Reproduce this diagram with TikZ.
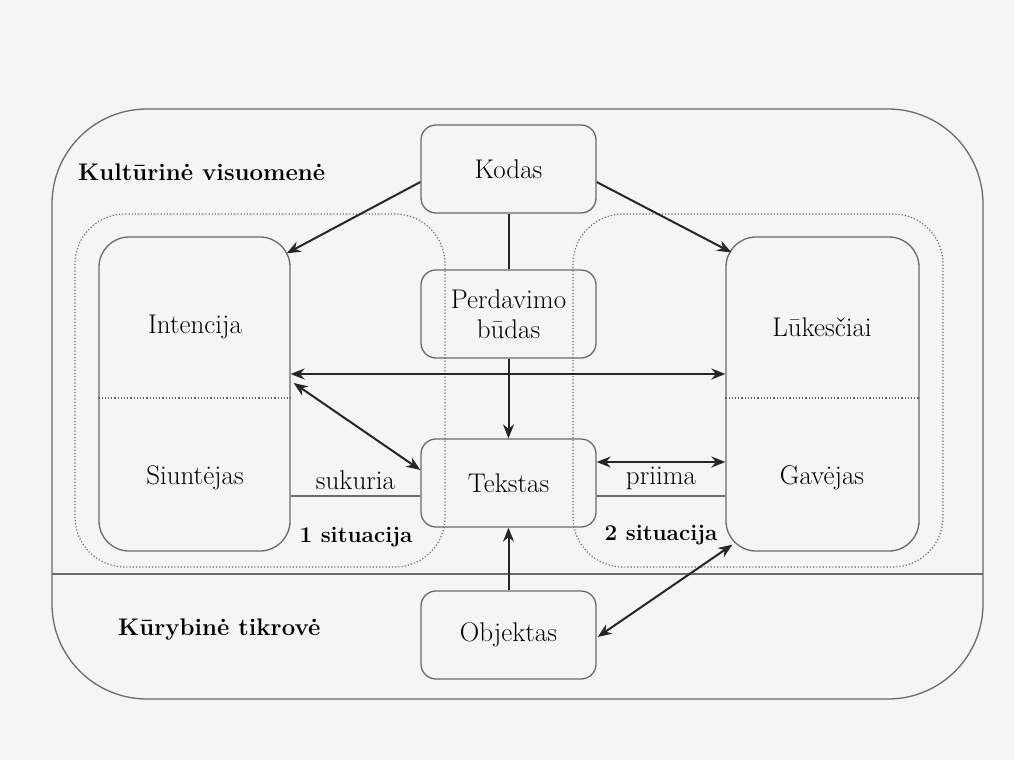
\documentclass[tikz,border=0pt]{standalone}
\usepackage{fontspec}
\usetikzlibrary{arrows.meta}
\definecolor{bg}{HTML}{F5F5F5}
\definecolor{boxline}{HTML}{6A6A6A}
\definecolor{arr}{HTML}{262626}
\begin{document}
\begin{tikzpicture}[x=1pt,y=-1pt,
  box/.style={draw=boxline,line width=1.3pt,rounded corners=15pt,minimum width=175pt,minimum height=88pt,inner sep=0pt,align=center,font=\fontsize{27}{33}\selectfont},
  tall/.style={draw=boxline,line width=1.3pt,rounded corners=30pt,minimum height=314pt,inner sep=0pt},
  zone/.style={draw=boxline,line width=1.2pt,dotted,rounded corners=50pt},
  lbl/.style={font=\fontsize{27}{33}\selectfont,inner sep=0pt},
  blbl/.style={font=\bfseries\fontsize{22.5}{27}\selectfont,inner sep=0pt},
  con/.style={draw=arr,line width=2pt},
  tip/.style={-{Stealth[length=14pt,width=11pt,inset=4.5pt]}},
  dtip/.style={{Stealth[length=14pt,width=11pt,inset=4.5pt]}-{Stealth[length=14pt,width=11pt,inset=4.5pt]}}
]
\useasboundingbox[fill=bg] (0,0) rectangle (1014,760);
% outer region
\draw[draw=boxline,line width=1.3pt,rounded corners=95pt] (52,109) rectangle (983,699);
\draw[draw=boxline,line width=1.3pt] (52,574) -- (983,574);
% situation zones
\draw[zone] (75,214) rectangle (445,567);
\draw[zone] (573,214) rectangle (943,567);
% tall boxes
\node[tall,minimum width=191pt] (lbox) at (194.5,394) {};
\node[tall,minimum width=193pt] (rbox) at (822.5,394) {};
\path (lbox.west) ++(0,4) coordinate (ld1) (lbox.east) ++(0,4) coordinate (ld2);
\draw[boxline,line width=1.2pt,dotted] (ld1) -- (ld2);
\path (rbox.west) ++(0,4) coordinate (rd1) (rbox.east) ++(0,4) coordinate (rd2);
\draw[boxline,line width=1.2pt,dotted] (rd1) -- (rd2);
\node[lbl] (intencija) at (195,327) {Intencija};
\node[lbl] (siuntejas) at (195,478) {Siuntėjas};
\node[lbl] (lukesciai) at (822,327) {Lūkesčiai};
\node[lbl] (gavejas) at (822,478) {Gavėjas};
% central boxes
\node[box] (kodas) at (508.5,169) {Kodas};
\node[box] (perdavimo) at (508.5,314) {Perdavimo\\[-3pt]būdas};
\node[box] (tekstas) at (508.5,483) {Tekstas};
\node[box] (objektas) at (508.5,635) {Objektas};
% region labels
\node[blbl,font=\bfseries\fontsize{24}{29}\selectfont,anchor=west] (kult) at (78,172) {Kultūrinė visuomenė};
\node[blbl,font=\bfseries\fontsize{24}{29}\selectfont,anchor=west] (kury) at (118,630) {Kūrybinė tikrovė};
\node[blbl] (sit1) at (356,537) {1 situacija};
\node[blbl] (sit2) at (661,535) {2 situacija};
% connectors
\draw[con] (kodas) -- (perdavimo);
\draw[con,tip] (perdavimo) -- (tekstas);
\draw[con,tip] (objektas) -- (tekstas);
\draw[con,tip] ([yshift=-13pt]kodas.west) -- ([shift={(-4pt,-17pt)}]lbox.north east);
\draw[con,tip] ([yshift=-13pt]kodas.east) -- ([shift={(6pt,-16pt)}]rbox.north west);
\draw[con,dtip] ([yshift=20pt]lbox.east) -- ([yshift=20pt]rbox.west);
\draw[con,dtip] ([shift={(3pt,11pt)}]lbox.east) -- ([yshift=13pt]tekstas.west);
\draw[con,dtip] ([yshift=21pt]tekstas.east) -- ([yshift=-68pt]rbox.west);
\draw[con,dtip] ([shift={(1pt,-2pt)}]objektas.east) -- ([shift={(7pt,7pt)}]rbox.south west);
\draw[draw=boxline,line width=1.3pt] ([yshift=-102pt]lbox.east) -- node[lbl,above=6pt] (sukuria) {sukuria} ([yshift=-13pt]tekstas.west);
\draw[draw=boxline,line width=1.3pt] ([yshift=-13pt]tekstas.east) -- node[lbl,above=6pt] (priima) {priima} ([yshift=-102pt]rbox.west);
\end{tikzpicture}
\end{document}
